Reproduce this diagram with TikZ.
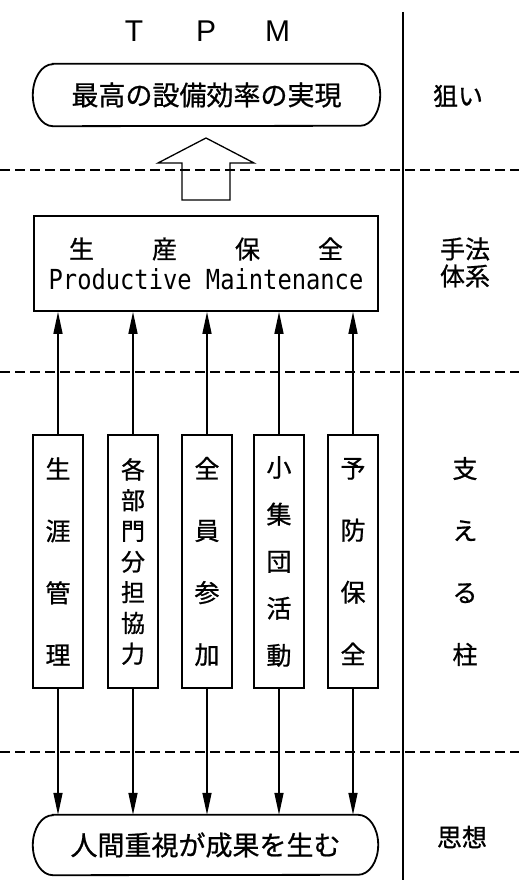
\documentclass[tikz,border=0pt]{standalone}
\usepackage{fontspec}
\newfontfamily\jpfont[FakeBold=0.8]{Noto Sans CJK JP}
\newfontfamily\tpmfont{Liberation Sans}
\newfontfamily\pmmono{DejaVu Sans Mono}
\usetikzlibrary{arrows.meta}
\begin{document}
\begin{tikzpicture}[x=1pt,y=1pt,
  boxline/.style={line width=1.8pt},
  conn/.style={line width=1.5pt},
  uparrow/.style={conn, -{Triangle[length=22pt,width=9pt]}},
  sepline/.style={line width=1.5pt, dash pattern=on 10pt off 5pt},
  jptext/.style={font=\jpfont\fontsize{25pt}{25pt}\selectfont, inner sep=0pt},
  bigjp/.style={font=\jpfont\fontsize{27pt}{27pt}\selectfont, inner sep=0pt},
  pillar/.style={draw, boxline, minimum width=50pt, minimum height=253pt, inner sep=0pt, align=center}
]
\useasboundingbox (0,0) rectangle (519,880);
\fill[white] (0,0) rectangle (519,880);

% dashed separators
\coordinate (d1l) at (0,710);   \coordinate (d1r) at (519,710);
\coordinate (d2l) at (0,508);   \coordinate (d2r) at (519,508);
\coordinate (d3l) at (0,128);   \coordinate (d3r) at (519,128);
\draw[sepline] (d1l) -- (d1r);
\draw[sepline] (d2l) -- (d2r);
\draw[sepline] (d3l) -- (d3r);

% vertical separator
\coordinate (vtop) at (403,868);
\coordinate (vbot) at (403,0);
\draw[line width=2pt] (vtop) -- (vbot);

% title
\node[font=\tpmfont\fontsize{30pt}{30pt}\selectfont, inner sep=0pt] (tpm) at (207.5,849) {T\hspace{53pt}P\hspace{49pt}M};

% goal (top stadium)
\node[bigjp, minimum width=347pt, minimum height=62pt] (goal) at (206.5,785) {最高の設備効率の実現};
\draw[boxline] ([xshift=20pt]goal.north west) -- ([xshift=-20pt]goal.north east)
  arc[start angle=90,end angle=-90,x radius=20pt,y radius=31pt]
  -- ([xshift=20pt]goal.south west)
  arc[start angle=270,end angle=90,x radius=20pt,y radius=31pt] -- cycle;

% hollow block arrow
\draw[line width=1.3pt] (182,680) -- (182,717) -- (158,717) -- (206,742) -- (254,717) -- (230,717) -- (230,680) -- cycle;

% productive maintenance box
\node[draw, boxline, minimum width=344pt, minimum height=95pt, inner sep=0pt] (pm) at (206,616.5) {};
\node[jptext] (pmjp) at (206,631) {生\hspace{58pt}産\hspace{58pt}保\hspace{58pt}全};
\node[font=\pmmono\fontsize{24pt}{24pt}\selectfont, inner sep=0pt] (pmen) at (206,601) {\scalebox{0.99}[1.15]{Productive Maintenance}};

% pillars
\node[pillar, font=\jpfont\fontsize{25pt}{62pt}\selectfont] (p1) at (58,318.5) {生\\涯\\管\\理};
\node[pillar, font=\jpfont\fontsize{24pt}{30.7pt}\selectfont] (p2) at (133,318.5) {各\\部\\門\\分\\担\\協\\力};
\node[pillar, font=\jpfont\fontsize{25pt}{62pt}\selectfont] (p3) at (207,318.5) {全\\員\\参\\加};
\node[pillar, font=\jpfont\fontsize{25pt}{47pt}\selectfont] (p4) at (279,318.5) {小\\集\\団\\活\\動};
\node[pillar, font=\jpfont\fontsize{25pt}{62pt}\selectfont] (p5) at (353,318.5) {予\\防\\保\\全};

% bottom (stadium)
\node[bigjp, minimum width=345pt, minimum height=60pt] (bot) at (205.5,35) {人間重視が成果を生む};
\draw[boxline] ([xshift=20pt]bot.north west) -- ([xshift=-20pt]bot.north east)
  arc[start angle=90,end angle=-90,x radius=20pt,y radius=30pt]
  -- ([xshift=20pt]bot.south west)
  arc[start angle=270,end angle=90,x radius=20pt,y radius=30pt] -- cycle;

% connectors
\foreach \p in {p1,p2,p3,p4,p5} {
  \draw[uparrow] (\p.north) -- (\p.north |- pm.south);
  \draw[uparrow] (\p.south) -- (\p.south |- bot.north);
}

% right-hand labels
\node[jptext] (aim) at (458,784) {狙い};
\node[jptext, align=center, font=\jpfont\fontsize{25pt}{27pt}\selectfont] (method) at (465,617.5) {手法\\体系};
\node[jptext, align=center, font=\jpfont\fontsize{25pt}{62pt}\selectfont] (support) at (465,318.5) {支\\え\\る\\柱};
\node[jptext] (idea) at (462,43) {思想};
\end{tikzpicture}
\end{document}
